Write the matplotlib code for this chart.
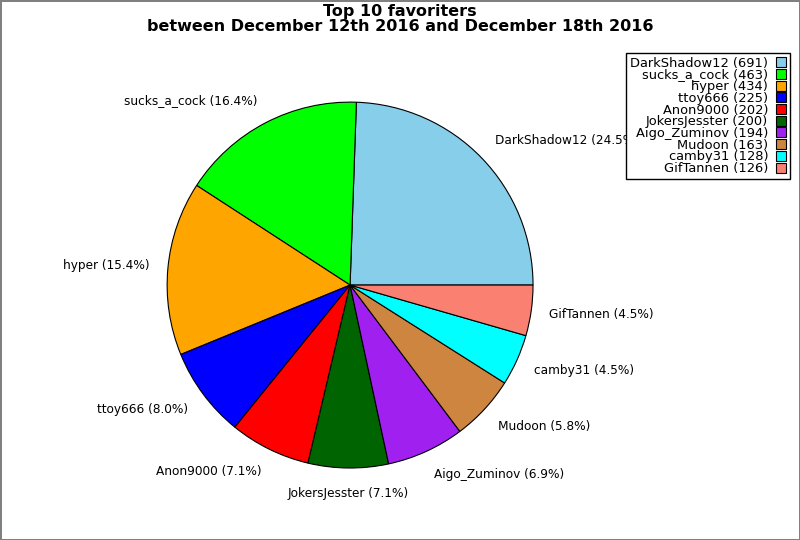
import numpy as np
import matplotlib
matplotlib.use("Agg")
import matplotlib.pyplot as plt

# дані
names = ["DarkShadow12", "sucks_a_cock", "hyper", "ttoy666", "Anon9000",
         "JokersJesster", "Aigo_Zuminov", "Mudoon", "camby31", "GifTannen"]
counts = [691, 463, 434, 225, 202, 200, 194, 163, 128, 126]
colors = ["skyblue", "#00ff00", "orange", "blue", "red",
          "darkgreen", "#a020f0", "peru", "cyan", "salmon"]

total = sum(counts)
pie_labels = ["%s (%.1f%%)" % (n, 100.0 * c / total) for n, c in zip(names, counts)]
legend_labels = ["%s (%d)" % (n, c) for n, c in zip(names, counts)]

fig = plt.figure(figsize=(8, 5.4), dpi=100)
fig.patch.set_edgecolor("#808080")
fig.patch.set_linewidth(2)

ax = fig.add_axes([0.1516, 0.0486, 0.572, 0.847])
wedges, texts = ax.pie(counts, labels=pie_labels, colors=colors, startangle=0,
                       counterclock=True, labeldistance=1.1,
                       wedgeprops={"edgecolor": "black", "linewidth": 0.8},
                       textprops={"fontsize": 8.7})
# підписи трохи далі по вертикалі, нижній - по центру
for t in texts:
    x, y = t.get_position()
    t.set_position((x, y * 1.035))
    if abs(x) < 0.1:
        t.set_ha("center")
ax.set_xlim(-1.25, 1.25)
ax.set_ylim(-1.25, 1.25)
ax.set_aspect("equal")
ax.axis("off")

fig.suptitle("Top 10 favoriters\nbetween December 12th 2016 and December 18th 2016",
             fontsize=11.5, fontweight="bold", y=0.993, linespacing=1.0)

leg = fig.legend(wedges, legend_labels, loc="upper right",
                 bbox_to_anchor=(0.988, 0.902), bbox_transform=fig.transFigure,
                 borderaxespad=0, markerfirst=False, fontsize=9.4,
                 labelspacing=-0.1, handlelength=0.8, handleheight=0.8,
                 handletextpad=0.6, borderpad=0.3, fancybox=False,
                 framealpha=1, edgecolor="black")
leg.get_frame().set_linewidth(1)
for t in leg.get_texts():
    t.set_ha("right")
leg._legend_box.align = "right"

fig.savefig("out.png", dpi=100)
